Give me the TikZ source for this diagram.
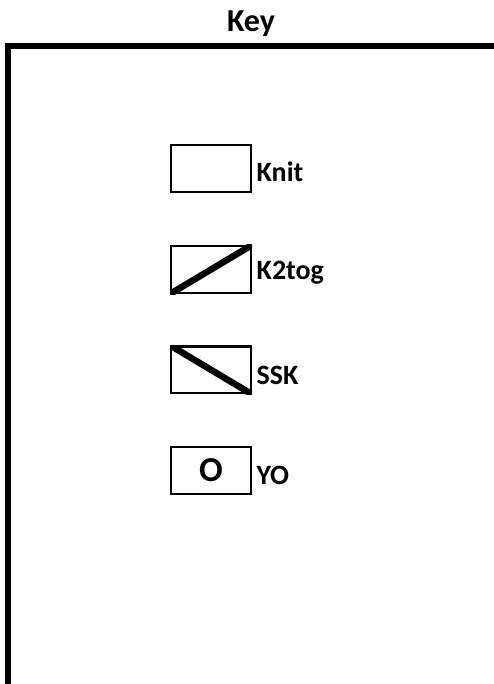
\documentclass[tikz,border=0pt]{standalone}
\usepackage{fontspec}
\setmainfont{Carlito}
\usetikzlibrary{positioning}
\tikzset{
  cuadro/.style  = {draw, line width=2.3pt, minimum width=79.7pt, minimum height=46.7pt,
                    inner sep=0pt, font=\fontsize{35}{37}\selectfont\bfseries},
  etiqueta/.style = {anchor=base west, inner sep=0pt, font=\fontsize{28}{30}\selectfont\bfseries},
  titulo/.style  = {anchor=base, inner sep=0pt, font=\fontsize{32}{34}\selectfont\bfseries},
  marco/.style   = {line width=5.5pt, miter limit=10},
  diag/.style    = {line width=6.5pt},
}
\begin{document}
\begin{tikzpicture}[x=1pt, y=-1pt, node distance=52pt]
  \useasboundingbox (0,0) rectangle (493,684);
  \node[titulo] (clave) at (251,32) {Key};
  \draw[marco] (8,690) -- (8,46) -- (497,46);
  % simbolos
  \node[cuadro] (knit) at (211,168.5) {};
  \node[cuadro, below=of knit] (k2tog) {};
  \node[cuadro, below=51.3pt of k2tog] (ssk) {};
  \node[cuadro, below=51.8pt of ssk] (yo) {O};
  \begin{scope}
    \clip (k2tog.south west) rectangle (k2tog.north east);
    \draw[diag] (k2tog.south west) -- (k2tog.north east);
  \end{scope}
  \begin{scope}
    \clip (ssk.south west) rectangle (ssk.north east);
    \draw[diag] (ssk.north west) -- (ssk.south east);
  \end{scope}
  % etiquetas
  \node[etiqueta] (knitlbl) at ([shift={(4.5pt,11pt)}]knit.south east) {Knit};
  \node[etiqueta] (k2toglbl) at ([shift={(4.5pt,14pt)}]k2tog.south east) {K2tog};
  \node[etiqueta] (ssklbl) at ([shift={(4.5pt,10pt)}]ssk.south east) {SSK};
  \node[etiqueta] (yolbl) at ([shift={(4.5pt,11pt)}]yo.south east) {YO};
\end{tikzpicture}
\end{document}
